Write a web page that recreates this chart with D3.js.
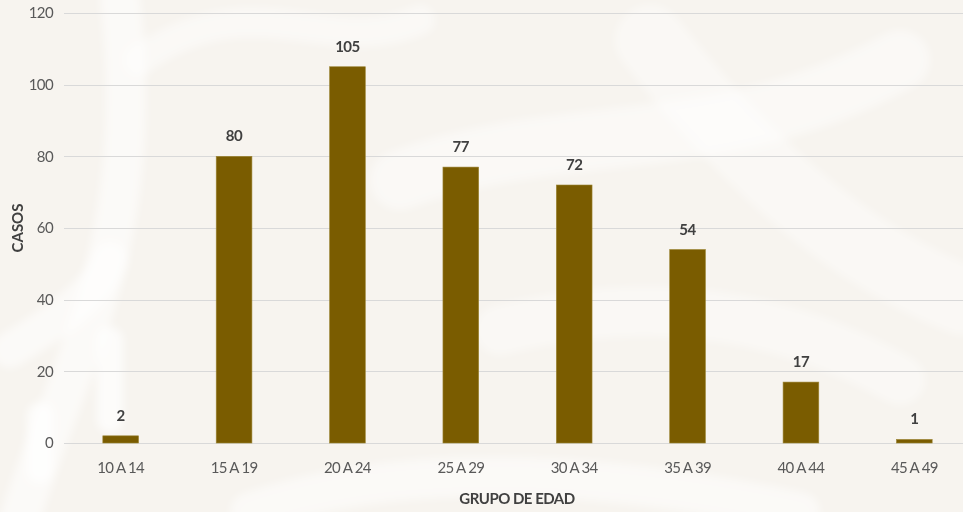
<!DOCTYPE html>
<html>
<head>
<meta charset="utf-8">
<script src="https://cdn.jsdelivr.net/npm/d3@7"></script>
<style>
  body { margin: 0; background: #f7f4ef; }
  svg { display: block; font-family: Lato, "Open Sans", sans-serif; }
</style>
</head>
<body>
<div id="chart"></div>
<script>
var grupos = ["10 A 14", "15 A 19", "20 A 24", "25 A 29", "30 A 34", "35 A 39", "40 A 44", "45 A 49"]
var casos = [2, 80, 105, 77, 72, 54, 17, 1]
var yTicks = [0, 20, 40, 60, 80, 100, 120]

var width = 963
var height = 512
var margin = {top: 13, bottom: 69, left: 64, right: -8}

var svg = d3.select("#chart").append("svg")
  .attr("width", width)
  .attr("height", height)

svg.append("defs").append("filter").attr("id", "soft")
  .append("feGaussianBlur").attr("stdDeviation", 4)

// faint background ornament
var deco = svg.append("g").attr("fill", "none").attr("stroke", "#ffffff")
  .attr("stroke-linecap", "round").attr("filter", "url(#soft)")
deco.append("path").attr("d", "M20,520 C60,380 150,250 120,0").attr("stroke-width", 40).attr("opacity", 0.55)
deco.append("path").attr("d", "M140,60 C250,-20 330,60 420,20").attr("stroke-width", 30).attr("opacity", 0.45)
deco.append("path").attr("d", "M400,180 C560,120 720,160 900,60").attr("stroke-width", 60).attr("opacity", 0.45)
deco.append("path").attr("d", "M650,40 C760,180 860,260 963,300").attr("stroke-width", 70).attr("opacity", 0.4)
deco.append("path").attr("d", "M110,420 L110,340").attr("stroke-width", 26).attr("opacity", 0.7)
deco.append("path").attr("d", "M40,470 L40,415").attr("stroke-width", 26).attr("opacity", 0.7)
deco.append("path").attr("d", "M10,350 C60,320 100,290 110,260").attr("stroke-width", 36).attr("opacity", 0.55)
deco.append("path").attr("d", "M500,330 C620,300 760,300 900,380").attr("stroke-width", 50).attr("opacity", 0.4)
deco.append("path").attr("d", "M250,512 C400,460 600,470 800,512").attr("stroke-width", 40).attr("opacity", 0.5)

var x = d3.scaleBand()
  .domain(grupos)
  .range([margin.left, width - margin.right])
  .paddingInner(0.685)
  .paddingOuter(0.3425)

var y = d3.scaleLinear()
  .domain([0, 120])
  .range([height - margin.bottom, margin.top])

// gridlines
svg.append("g")
  .selectAll("line")
  .data(yTicks)
  .join("line")
  .attr("x1", margin.left)
  .attr("x2", width)
  .attr("y1", d => Math.round(y(d)) + 0.5)
  .attr("y2", d => Math.round(y(d)) + 0.5)
  .attr("stroke", "#d9d9d9")
  .attr("stroke-width", 1)

// y labels
svg.append("g")
  .selectAll("text")
  .data(yTicks)
  .join("text")
  .attr("x", margin.left - 11)
  .attr("y", d => y(d))
  .attr("dy", "0.36em")
  .attr("text-anchor", "end")
  .attr("font-size", 15)
  .attr("letter-spacing", -0.6)
  .attr("fill", "#595959")
  .text(d => d)

// bars
svg.append("g")
  .attr("fill", "#7a5c00")
  .attr("stroke", "#9c8533")
  .attr("stroke-width", 0.6)
  .selectAll("rect")
  .data(casos)
  .join("rect")
  .attr("x", (d, i) => x(grupos[i]))
  .attr("y", d => y(d))
  .attr("width", x.bandwidth())
  .attr("height", d => y(0) - y(d))

// value labels
svg.append("g")
  .selectAll("text")
  .data(casos)
  .join("text")
  .attr("x", (d, i) => x(grupos[i]) + x.bandwidth() / 2)
  .attr("y", d => y(d) - 15)
  .attr("text-anchor", "middle")
  .attr("font-size", 15)
  .attr("font-weight", "bold")
  .attr("letter-spacing", -0.5)
  .attr("fill", "#404040")
  .text(d => d)

// x labels
svg.append("g")
  .selectAll("text")
  .data(grupos)
  .join("text")
  .attr("x", d => x(d) + x.bandwidth() / 2)
  .attr("y", y(0) + 30)
  .attr("text-anchor", "middle")
  .attr("font-size", 15)
  .attr("letter-spacing", -0.7)
  .attr("fill", "#595959")
  .text(d => d)

// axis titles
svg.append("text")
  .attr("x", 517)
  .attr("y", 504)
  .attr("text-anchor", "middle")
  .attr("font-size", 15)
  .attr("font-weight", "bold")
  .attr("letter-spacing", -0.5)
  .attr("fill", "#404040")
  .text("GRUPO DE EDAD")

svg.append("text")
  .attr("transform", "translate(23,228) rotate(-90)")
  .attr("text-anchor", "middle")
  .attr("font-size", 15)
  .attr("font-weight", "bold")
  .attr("fill", "#404040")
  .text("CASOS")
</script>
</body>
</html>
